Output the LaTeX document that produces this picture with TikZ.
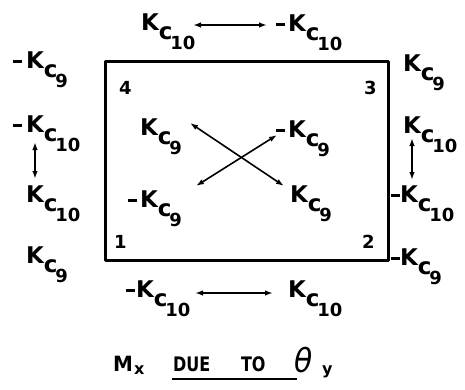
\documentclass[tikz,border=0pt]{standalone}
\usepackage{fontspec}
\usepackage{graphicx}
\setmainfont{DejaVu Sans}
\usetikzlibrary{arrows.meta}
\newcommand{\digf}{\fontsize{18}{18}\selectfont}
\newcommand{\Kc}[1]{K\raisebox{-9pt}{c}\kern-2pt\raisebox{-19pt}{\digf #1}}
\newcommand{\mKc}[2][3pt]{\llap{\rule[5pt]{9pt}{2.6pt}\kern#1}\Kc{#2}}
\newcommand{\ttxt}[3]{\scalebox{#1}[1]{\fontsize{#2}{#2}\selectfont\bfseries #3}}
\tikzset{
  lab/.style={anchor=base west, inner sep=0pt, outer sep=0pt, font=\fontsize{23}{23}\selectfont\bfseries},
  num/.style={anchor=base west, inner sep=0pt, outer sep=0pt, font=\fontsize{18}{18}\selectfont\bfseries},
  ttl/.style={anchor=base west, inner sep=0pt, outer sep=0pt},
  dbl/.style={{Latex[length=8pt,width=5.5pt]}-{Latex[length=8pt,width=5.5pt]}, line width=1.6pt},
  frame/.style={line width=3pt, line join=round}
}
\begin{document}
\begin{tikzpicture}[x=1pt,y=-1pt]
\useasboundingbox (0,0) rectangle (465,389);
% frame
\draw[frame] (105,61) rectangle (388,260);
% corner numbers
\node[num] (n4) at (119,94) {4};
\node[num] (n3) at (364,94) {3};
\node[num] (n1) at (114,248) {1};
\node[num] (n2) at (362,248) {2};
% top
\node[lab] (t1) at (141,30) {\Kc{10}};
\node[lab] (t2) at (288,31) {\mKc{10}};
% left column
\node[lab] (l1) at (26,68) {\mKc[4pt]{9}};
\node[lab] (l2) at (26,132) {\mKc[4pt]{10}};
\node[lab] (l3) at (26,202) {\Kc{10}};
\node[lab] (l4) at (26,263) {\Kc{9}};
% right column
\node[lab] (r1) at (403,71) {\Kc{9}};
\node[lab] (r2) at (403,133) {\Kc{10}};
\node[lab] (r3) at (400,202) {\mKc[0pt]{10}};
\node[lab] (r4) at (400,265) {\mKc[0pt]{9}};
% interior
\node[lab] (i1) at (140,135) {\Kc{9}};
\node[lab] (i2) at (288,137) {\mKc{9}};
\node[lab] (i3) at (140,207) {\mKc{9}};
\node[lab] (i4) at (290,202) {\Kc{9}};
% bottom
\node[lab] (b1) at (136,297) {\mKc[1pt]{10}};
\node[lab] (b2) at (288,297) {\Kc{10}};
% arrow ends
\coordinate (ta) at (193,25); \coordinate (tb) at (267,25);
\coordinate (ba) at (195,293); \coordinate (bb) at (273,293);
\coordinate (la) at (35,142); \coordinate (lb) at (35,179);
\coordinate (ra) at (412,138); \coordinate (rb) at (412,180);
\coordinate (xa) at (190,123); \coordinate (xb) at (284,186);
\coordinate (ya) at (196,186); \coordinate (yb) at (277,135);
\draw[dbl] (ta) -- (tb);
\draw[dbl] (ba) -- (bb);
\draw[dbl] (la) -- (lb);
\draw[dbl] (ra) -- (rb);
\draw[dbl] (xa) -- (xb);
\draw[dbl] (ya) -- (yb);
% title
\node[ttl] (mx) at (113,371) {\ttxt{0.95}{21}{M}};
\node[ttl] (sx) at (134,374) {\ttxt{1}{16}{x}};
\node[ttl] (due) at (173,371) {\ttxt{0.8}{20}{DUE}};
\node[ttl] (to) at (241,371) {\ttxt{0.8}{20}{TO}};
\node[ttl] (th) at (294,372) {\scalebox{0.9}[1]{\fontsize{33}{33}\selectfont\itshape θ}};
\node[ttl] (sy) at (322,374) {\ttxt{1}{16}{y}};
\coordinate (ua) at (172,379); \coordinate (ub) at (297,379);
\draw[line width=1.6pt] (ua) -- (ub);
\end{tikzpicture}
\end{document}
